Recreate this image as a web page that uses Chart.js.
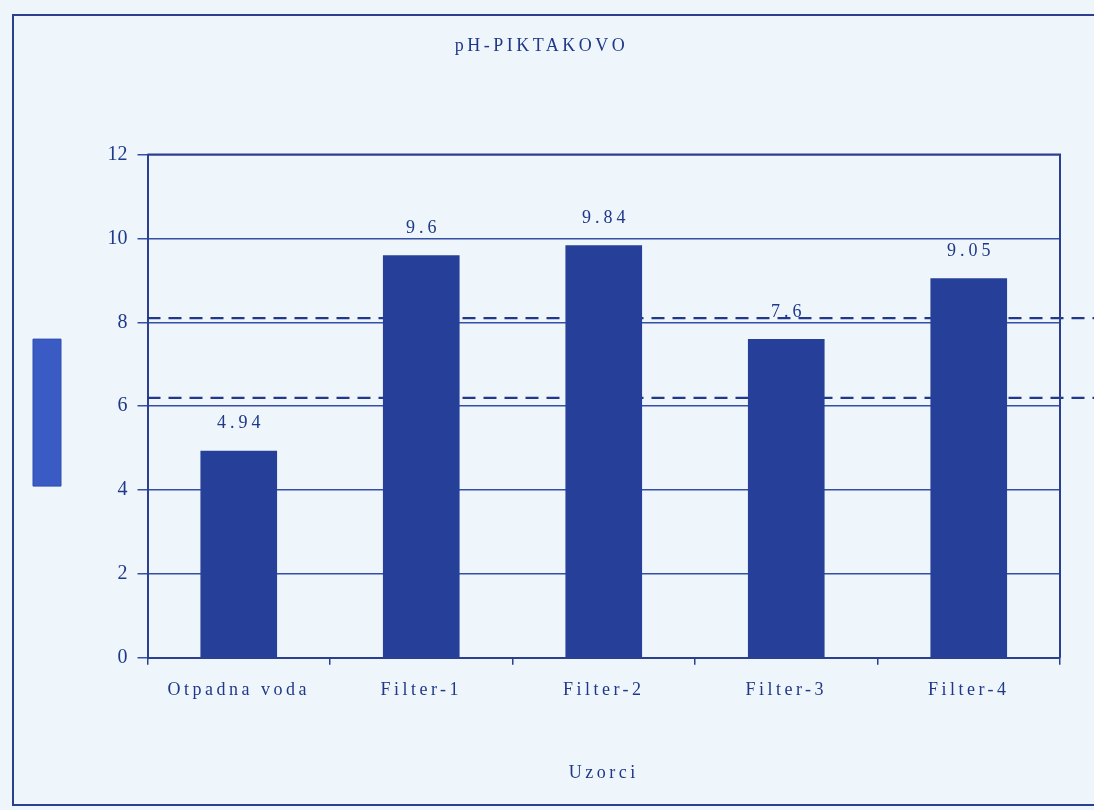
<!DOCTYPE html>
<html>
<head>
<meta charset="utf-8">
<script src="https://cdn.jsdelivr.net/npm/chart.js@4.4.1/dist/chart.umd.min.js"></script>
<style>
  html, body { margin: 0; padding: 0; background: #eef6fb; overflow: hidden; }
  #frame { position: absolute; left: 12px; top: 14px; width: 1200px; height: 788px; border: 2px solid #2a3f8f; }
  #wrap { position: absolute; left: 0; top: 0; width: 1094px; height: 810px; }
</style>
</head>
<body>
<div id="frame"></div>
<div id="wrap"><canvas id="chart"></canvas></div>
<script>
const categories = ['Otpadna voda', 'Filter-1', 'Filter-2', 'Filter-3', 'Filter-4'];
const phValues = [4.94, 9.6, 9.84, 7.6, 9.05];
// upper and lower pH limits, drawn as dashed lines
const limitLines = [8.1, 6.2];
const yMin = 0;
const yMax = 12;
const yStep = 2;

const inkColor = '#1f3889';
const barColor = '#26409a';
const serif = 'Liberation Serif, Times New Roman, serif';

// linear scale whose tick numbers are drawn without the extra letter spacing
class PlainLinearScale extends Chart.LinearScale {
    drawLabels(area) {
        const ctx = this.ctx;
        const spacing = ctx.letterSpacing;
        ctx.letterSpacing = '0px';
        super.drawLabels(area);
        ctx.letterSpacing = spacing;
    }
}
PlainLinearScale.id = 'plainLinear';
PlainLinearScale.defaults = Chart.LinearScale.defaults;
Chart.register(PlainLinearScale);

// spaced-out lettering for the rest of the canvas text
const letterSpacingPlugin = {
    id: 'letterSpacing',
    beforeDraw(chart) {
        chart.ctx.letterSpacing = '3.5px';
    }
};

// frame around the plot area (top and right edges)
const plotFramePlugin = {
    id: 'plotFrame',
    afterDraw(chart) {
        const { ctx, chartArea } = chart;
        ctx.save();
        ctx.strokeStyle = '#2a3f8f';
        ctx.lineWidth = 2;
        ctx.beginPath();
        ctx.moveTo(chartArea.left, chartArea.top);
        ctx.lineTo(chartArea.right, chartArea.top);
        ctx.lineTo(chartArea.right, chartArea.bottom);
        ctx.stroke();
        ctx.restore();
    }
};

// dashed limit lines, running out to the right edge of the page
const limitLinesPlugin = {
    id: 'limitLines',
    beforeDatasetsDraw(chart) {
        const { ctx, chartArea, scales } = chart;
        ctx.save();
        ctx.strokeStyle = '#22388a';
        ctx.lineWidth = 2.2;
        ctx.setLineDash([13, 8]);
        for (const v of limitLines) {
            const y = scales.y.getPixelForValue(v);
            ctx.beginPath();
            ctx.moveTo(chartArea.left, y);
            ctx.lineTo(chart.width, y);
            ctx.stroke();
        }
        ctx.restore();
    }
};

// value above every bar
const valueLabelsPlugin = {
    id: 'valueLabels',
    afterDatasetsDraw(chart) {
        const { ctx } = chart;
        const meta = chart.getDatasetMeta(0);
        ctx.save();
        ctx.letterSpacing = '4px';
        ctx.fillStyle = inkColor;
        ctx.font = '18px ' + serif;
        ctx.textAlign = 'center';
        ctx.textBaseline = 'bottom';
        meta.data.forEach((bar, i) => {
            ctx.fillText(String(phValues[i]), bar.x + 2, bar.y - 18);
        });
        ctx.restore();
    }
};

const canvas = document.getElementById('chart');

new Chart(canvas, {
    type: 'bar',
    data: {
        labels: categories,
        datasets: [{
            label: '',
            data: phValues,
            backgroundColor: barColor,
            borderWidth: 0,
            barPercentage: 0.42,
            categoryPercentage: 1.0
        }]
    },
    options: {
        responsive: true,
        maintainAspectRatio: false,
        animation: false,
        layout: {
            padding: { left: 23, right: 34, top: 0, bottom: 26 }
        },
        plugins: {
            title: {
                display: true,
                text: 'pH-PIKTAKOVO',
                color: inkColor,
                font: { family: serif, size: 18, weight: 'normal' },
                padding: { top: 35, bottom: 98 }
            },
            legend: {
                position: 'left',
                title: {
                    display: true,
                    text: ' ',
                    font: { size: 1 },
                    padding: { top: 40, bottom: 0 }
                },
                labels: {
                    boxWidth: 28,
                    boxHeight: 147,
                    padding: 10,
                    font: { size: 1 },
                    generateLabels() {
                        return [{ text: '', fillStyle: '#3b5bc4', strokeStyle: '#2f4db0', lineWidth: 1, datasetIndex: 0 }];
                    }
                },
                onClick: null
            },
            tooltip: { enabled: false }
        },
        scales: {
            x: {
                grid: {
                    offset: true,
                    drawOnChartArea: false,
                    color: '#2a3f8f',
                    tickLength: 7,
                    lineWidth: 1.5
                },
                border: { display: true, color: '#2a3f8f', width: 2 },
                ticks: {
                    color: inkColor,
                    font: { family: serif, size: 18 },
                    padding: 15,
                    maxRotation: 0
                },
                title: {
                    display: true,
                    text: 'Uzorci',
                    color: inkColor,
                    font: { family: serif, size: 18 },
                    padding: { top: 46, bottom: 0 }
                }
            },
            y: {
                type: 'plainLinear',
                min: yMin,
                max: yMax,
                afterFit(scale) { scale.width = 76; },
                grid: {
                    color: '#3350a6',
                    lineWidth: 1.5,
                    tickLength: 10
                },
                border: { display: true, color: '#2a3f8f', width: 2 },
                ticks: {
                    stepSize: yStep,
                    color: inkColor,
                    font: { family: serif, size: 20 },
                    padding: 10
                }
            }
        }
    },
    plugins: [letterSpacingPlugin, limitLinesPlugin, valueLabelsPlugin, plotFramePlugin]
});
</script>
</body>
</html>
